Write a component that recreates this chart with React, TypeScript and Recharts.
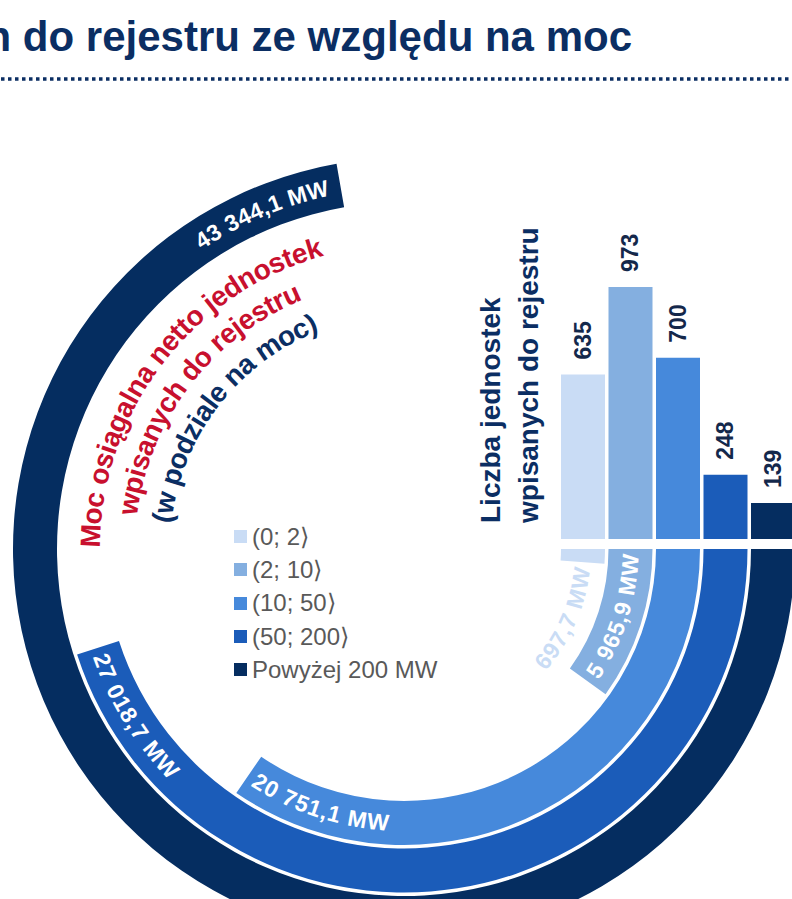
import React from "react";
import {
  RadialBarChart,
  RadialBar,
  PolarAngleAxis,
  PolarRadiusAxis,
  BarChart,
  Bar,
  XAxis,
  YAxis,
  Cell,
  LabelList,
  Legend,
} from "recharts";

// data
const CATEGORIES = ["(0; 2⟩", "(2; 10⟩", "(10; 50⟩", "(50; 200⟩", "Powyżej 200 MW"];
const CAPACITY_MW = [697.7, 5965.9, 20751.1, 27018.7, 43344.1];
const UNIT_COUNTS = [635, 973, 700, 248, 139];
const ANGLE_DOMAIN_MAX = 60000;
const COUNT_DOMAIN_MAX = 1000;

const PAGE_TITLE = "n do rejestru ze względu na moc";
const RADIAL_TITLE = ["Moc osiągalna netto jednostek", "wpisanych do rejestru", "(w podziale na moc)"];
const BAR_TITLE = ["Liczba jednostek", "wpisanych do rejestru"];

const COLORS = ["#C9DCF5", "#84AFE0", "#4689DB", "#1B5CB9", "#052D60"];
const NAVY = "#0B2E63";
const RED = "#C8102E";
const FONT = '"Liberation Sans", Arial, sans-serif';

const W = 792;
const H = 899;
const CX = 404;
const CY = 549;
const R_IN = 155;
const R_OUT = 392.5;
const RING_GAP = 2;

const ringData = CATEGORIES.map((name, i) => ({ name, mw: CAPACITY_MW[i] }));
const barData = CATEGORIES.map((name, i) => ({ name, count: UNIT_COUNTS[i] }));

const fmtMW = (v: number) => {
  const [int, dec] = v.toFixed(1).split(".");
  return int.replace(/\B(?=(\d{3})+(?!\d))/g, " ") + "," + dec + " MW";
};

// angle in degrees, clockwise on screen from east
const pt = (cx: number, cy: number, r: number, cw: number) => ({
  x: cx + r * Math.cos((cw * Math.PI) / 180),
  y: cy + r * Math.sin((cw * Math.PI) / 180),
});

const arcPath = (cx: number, cy: number, r: number, from: number, to: number) => {
  const a = pt(cx, cy, r, from);
  const b = pt(cx, cy, r, to);
  const sweep = to > from ? 1 : 0;
  const large = Math.abs(to - from) > 180 ? 1 : 0;
  return `M${a.x},${a.y} A${r},${r} 0 ${large} ${sweep} ${b.x},${b.y}`;
};

function ArcLabel(props: any) {
  const { viewBox, value, index } = props;
  if (!viewBox || viewBox.innerRadius == null) return null;
  const { cx, cy, innerRadius, outerRadius, startAngle, endAngle } = viewBox;
  const r = (innerRadius + outerRadius) / 2;
  const span = Math.abs(endAngle - startAngle);
  const endCw = -endAngle;
  const deg = (px: number) => ((px / r) * 180) / Math.PI;
  const arcLen = (span * Math.PI * r) / 180;
  const id = `arc-label-${index}`;
  let d: string;
  let anchor: "start" | "end";
  let fill = "#ffffff";
  if (arcLen < 60) {
    // too short: text sits just past the end of the arc
    const e = endCw + deg(5);
    d = arcPath(cx, cy, r, e + 170, e);
    anchor = "end";
    fill = COLORS[index];
  } else {
    const mid = endCw - deg(10) - deg(65);
    if (mid > 180) {
      const e = endCw - deg(12);
      d = arcPath(cx, cy, r, e - 170, e);
      anchor = "end";
    } else {
      const s = endCw - deg(7);
      d = arcPath(cx, cy, r, s, s - 170);
      anchor = "start";
    }
  }
  return (
    <g>
      <defs>
        <path id={id} d={d} />
      </defs>
      <text
        fill={fill}
        fontFamily={FONT}
        fontSize={23}
        fontWeight="bold"
        letterSpacing={0.6}
        dominantBaseline="central"
        textAnchor={anchor}
      >
        <textPath href={`#${id}`} startOffset={anchor === "end" ? "100%" : "0%"}>
          {fmtMW(Number(value))}
        </textPath>
      </text>
    </g>
  );
}

function BarValueLabel(props: any) {
  const { x, y, width, value } = props;
  const lx = x + width / 2;
  const ly = y - 15;
  return (
    <text
      x={lx}
      y={ly}
      transform={`rotate(-90 ${lx} ${ly})`}
      fill="#14284B"
      fontFamily={FONT}
      fontSize={23}
      fontWeight="bold"
      dominantBaseline="central"
      textAnchor="start"
    >
      {value}
    </text>
  );
}

const LegendContent = () => (
  <div style={{ fontFamily: FONT, fontSize: 24, color: "#595959" }}>
    {CATEGORIES.map((c, i) => (
      <div key={c} style={{ display: "flex", alignItems: "center", height: 33.3, whiteSpace: "nowrap" }}>
        <span
          style={{ display: "inline-block", width: 13, height: 13, background: COLORS[i], marginRight: 5 }}
        />
        {c}
      </div>
    ))}
  </div>
);

export default function App() {
  const titleCenter = 217.5;
  return (
    <div style={{ position: "absolute", left: 0, top: 0, width: W, height: H, overflow: "hidden", background: "#fff" }}>
      <svg width={W} height={100} style={{ position: "absolute", left: 0, top: 0 }}>
        <text x={632} y={51} textAnchor="end" fontFamily={FONT} fontSize={42} fontWeight="bold" fill={NAVY}>
          {PAGE_TITLE}
        </text>
        <line x1={1} y1={79} x2={W} y2={79} stroke={NAVY} strokeWidth={3.5} strokeDasharray="3.5 3.5" />
      </svg>

      <div style={{ position: "absolute", left: 0, top: 0 }}>
        <RadialBarChart
          width={W}
          height={H}
          cx={CX}
          cy={CY}
          innerRadius={R_IN}
          outerRadius={R_OUT}
          startAngle={0}
          endAngle={-360}
          data={ringData}
          barCategoryGap={RING_GAP}
          margin={{ top: 0, right: 0, bottom: 0, left: 0 }}
        >
          <PolarAngleAxis type="number" domain={[0, ANGLE_DOMAIN_MAX]} tick={false} axisLine={false} />
          <PolarRadiusAxis type="category" dataKey="name" tick={false} axisLine={false} />
          <RadialBar dataKey="mw" isAnimationActive={false}>
            {ringData.map((d, i) => (
              <Cell key={d.name} fill={COLORS[i]} />
            ))}
            <LabelList dataKey="mw" content={ArcLabel} />
          </RadialBar>
          <Legend
            layout="vertical"
            align="center"
            verticalAlign="middle"
            content={LegendContent}
            wrapperStyle={{ left: 234, top: 520, width: 260 }}
          />
          {RADIAL_TITLE.map((line, i) => {
            const r = 314 - i * 35;
            const id = `radial-title-${i}`;
            return (
              <g key={id}>
                <defs>
                  <path id={id} d={arcPath(CX, CY, r, titleCenter - 85, titleCenter + 85)} />
                </defs>
                <text
                  fill={i < 2 ? RED : NAVY}
                  fontFamily={FONT}
                  fontSize={28}
                  fontWeight="bold"
                  dominantBaseline="central"
                  textAnchor="middle"
                >
                  <textPath href={`#${id}`} startOffset="50%">
                    {line}
                  </textPath>
                </text>
              </g>
            );
          })}
        </RadialBarChart>
      </div>

      <div style={{ position: "absolute", left: 0, top: 0 }}>
        <BarChart
          width={800}
          height={H}
          data={barData}
          margin={{ top: 280, right: 800 - (CX + R_OUT), bottom: H - 539, left: CX + R_IN }}
          barCategoryGap={RING_GAP}
        >
          <XAxis dataKey="name" hide />
          <YAxis domain={[0, COUNT_DOMAIN_MAX]} hide />
          <Bar dataKey="count" isAnimationActive={false}>
            {barData.map((d, i) => (
              <Cell key={d.name} fill={COLORS[i]} />
            ))}
            <LabelList dataKey="count" content={BarValueLabel} />
          </Bar>
          {BAR_TITLE.map((line, i) => {
            const x = 490 + i * 38;
            const y = 523;
            return (
              <text
                key={line}
                x={x}
                y={y}
                transform={`rotate(-90 ${x} ${y})`}
                fill={NAVY}
                fontFamily={FONT}
                fontSize={28}
                fontWeight="bold"
                dominantBaseline="central"
                textAnchor="start"
              >
                {line}
              </text>
            );
          })}
        </BarChart>
      </div>
    </div>
  );
}
